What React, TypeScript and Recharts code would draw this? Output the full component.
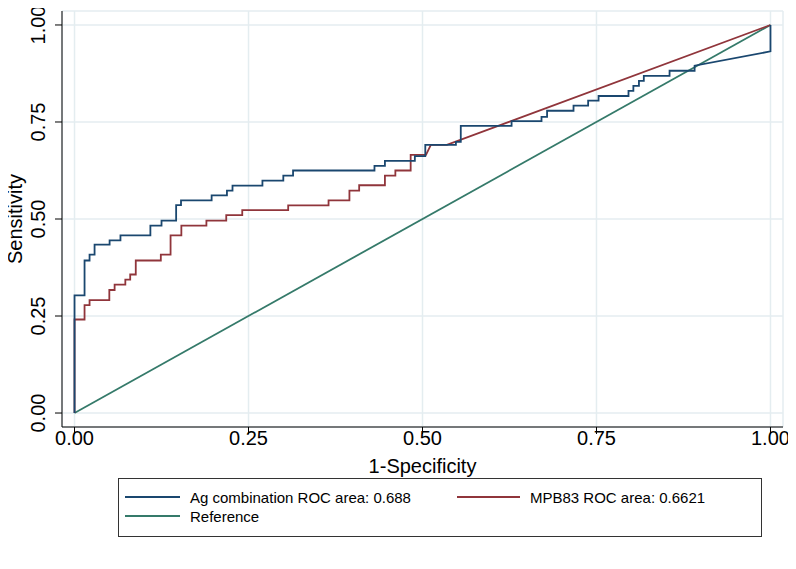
import React from 'react';
import { LineChart, Line, XAxis, YAxis, CartesianGrid, Label } from 'recharts';

// ROC curve: Ag combination (1-specificity, sensitivity)
const agFpr = [0, 0, 0.0144, 0.0144, 0.0216, 0.0216, 0.0288, 0.0288, 0.0504, 0.0504, 0.066, 0.066, 0.109, 0.109, 0.125, 0.125, 0.146, 0.146, 0.153, 0.153, 0.197, 0.197, 0.219, 0.219, 0.227, 0.227, 0.27, 0.27, 0.3, 0.3, 0.314, 0.314, 0.431, 0.431, 0.446, 0.446, 0.489, 0.489, 0.504, 0.504, 0.548, 0.548, 0.555, 0.555, 0.628, 0.628, 0.671, 0.671, 0.679, 0.679, 0.717, 0.717, 0.738, 0.738, 0.753, 0.753, 0.796, 0.796, 0.803, 0.803, 0.811, 0.811, 0.818, 0.818, 0.855, 0.855, 0.891, 0.891, 1, 1];
const agTpr = [0, 0.303, 0.303, 0.393, 0.393, 0.408, 0.408, 0.434, 0.434, 0.445, 0.445, 0.458, 0.458, 0.483, 0.483, 0.496, 0.496, 0.536, 0.536, 0.548, 0.548, 0.561, 0.561, 0.573, 0.573, 0.586, 0.586, 0.599, 0.599, 0.612, 0.612, 0.625, 0.625, 0.637, 0.637, 0.65, 0.65, 0.662, 0.662, 0.691, 0.691, 0.699, 0.699, 0.74, 0.74, 0.752, 0.752, 0.763, 0.763, 0.779, 0.779, 0.792, 0.792, 0.805, 0.805, 0.817, 0.817, 0.83, 0.83, 0.843, 0.843, 0.856, 0.856, 0.869, 0.869, 0.882, 0.882, 0.895, 0.932, 1];

// ROC curve: MPB83
const mpbFpr = [0, 0, 0.0144, 0.0144, 0.0216, 0.0216, 0.05, 0.05, 0.0576, 0.0576, 0.073, 0.073, 0.08, 0.08, 0.088, 0.088, 0.124, 0.124, 0.138, 0.138, 0.1535, 0.1535, 0.1895, 0.1895, 0.218, 0.218, 0.241, 0.241, 0.307, 0.307, 0.365, 0.365, 0.395, 0.395, 0.409, 0.409, 0.446, 0.446, 0.461, 0.461, 0.483, 0.483, 0.505, 0.512, 0.535, 1];
const mpbTpr = [0, 0.241, 0.241, 0.278, 0.278, 0.291, 0.291, 0.317, 0.317, 0.331, 0.331, 0.344, 0.344, 0.357, 0.357, 0.393, 0.393, 0.408, 0.408, 0.458, 0.458, 0.483, 0.483, 0.496, 0.496, 0.51, 0.51, 0.523, 0.523, 0.535, 0.535, 0.548, 0.548, 0.573, 0.573, 0.587, 0.587, 0.612, 0.612, 0.625, 0.625, 0.665, 0.665, 0.691, 0.691, 1];

// Reference diagonal
const refFpr = [0, 1];
const refTpr = [0, 1];

const axisTicks = [0, 0.25, 0.5, 0.75, 1];

const seriesNames = ['Ag combination ROC area: 0.688', 'MPB83 ROC area: 0.6621', 'Reference'];
const colors = ['#1a476f', '#90353b', '#357a6a'];

const toPoints = (xs: number[], ys: number[]) => xs.map((x, i) => ({ x, y: ys[i] }));
const agData = toPoints(agFpr, agTpr);
const mpbData = toPoints(mpbFpr, mpbTpr);
const refData = toPoints(refFpr, refTpr);

const FONT = '"Liberation Sans", Arial, sans-serif';

const XTick = (props: any) => {
  const { x, payload } = props;
  return (
    <text x={x} y={438} textAnchor="middle" dominantBaseline="central" fontSize={20} fontFamily={FONT} fill="#000">
      {Number(payload.value).toFixed(2)}
    </text>
  );
};

const YTick = (props: any) => {
  const { y, payload } = props;
  return (
    <text x={38} y={y} transform={`rotate(-90, 38, ${y})`} textAnchor="middle" dominantBaseline="central" fontSize={20} fontFamily={FONT} fill="#000">
      {Number(payload.value).toFixed(2)}
    </text>
  );
};

const LegendItem = ({ color, text, left, top, lineW }: { color: string; text: string; left: number; top: number; lineW: number }) => (
  <div style={{ position: 'absolute', left, top, height: 18, display: 'flex', alignItems: 'center' }}>
    <div style={{ width: lineW, height: 2, background: color, marginRight: 10 }} />
    <span style={{ fontFamily: FONT, fontSize: 15, color: '#000', whiteSpace: 'nowrap' }}>{text}</span>
  </div>
);

export default function App() {
  return (
    <div style={{ position: 'relative', left: -8, top: -8, width: 796, height: 569, background: '#fff' }}>
      <LineChart width={796} height={569} margin={{ top: 11, right: 13, left: 0, bottom: 0 }}>
        <CartesianGrid stroke="#e4edf0" strokeWidth={1.5} />
        <XAxis
          type="number"
          dataKey="x"
          domain={[-0.018, 1.018]}
          ticks={axisTicks}
          allowDataOverflow
          height={142}
          tickSize={7}
          stroke="#000"
          tick={<XTick />}
        >
          <Label
            content={(p: any) => {
              const vb = p.viewBox || {};
              return (
                <text x={vb.x + vb.width / 2} y={466} textAnchor="middle" dominantBaseline="central" fontSize={20} fontFamily={FONT} fill="#000">
                  1-Specificity
                </text>
              );
            }}
          />
        </XAxis>
        <YAxis
          type="number"
          domain={[-0.036, 1.036]}
          ticks={axisTicks}
          allowDataOverflow
          width={62}
          tickSize={7}
          stroke="#000"
          tick={<YTick />}
        >
          <Label
            content={(p: any) => {
              const vb = p.viewBox || {};
              const cy = vb.y + vb.height / 2;
              return (
                <text x={15} y={cy} transform={`rotate(-90, 15, ${cy})`} textAnchor="middle" dominantBaseline="central" fontSize={20} fontFamily={FONT} fill="#000">
                  Sensitivity
                </text>
              );
            }}
          />
        </YAxis>
        <Line data={refData} dataKey="y" type="linear" stroke={colors[2]} strokeWidth={1.8} dot={false} isAnimationActive={false} />
        <Line data={mpbData} dataKey="y" type="linear" stroke={colors[1]} strokeWidth={1.8} dot={false} isAnimationActive={false} />
        <Line data={agData} dataKey="y" type="linear" stroke={colors[0]} strokeWidth={1.8} dot={false} isAnimationActive={false} />
      </LineChart>
      <div style={{ position: 'absolute', left: 118, top: 478, width: 644, height: 59, border: '1px solid #333', boxSizing: 'border-box' }}>
        <LegendItem color={colors[0]} text={seriesNames[0]} left={6} top={9} lineW={55} />
        <LegendItem color={colors[1]} text={seriesNames[1]} left={338} top={9} lineW={63} />
        <LegendItem color={colors[2]} text={seriesNames[2]} left={6} top={28} lineW={55} />
      </div>
    </div>
  );
}
